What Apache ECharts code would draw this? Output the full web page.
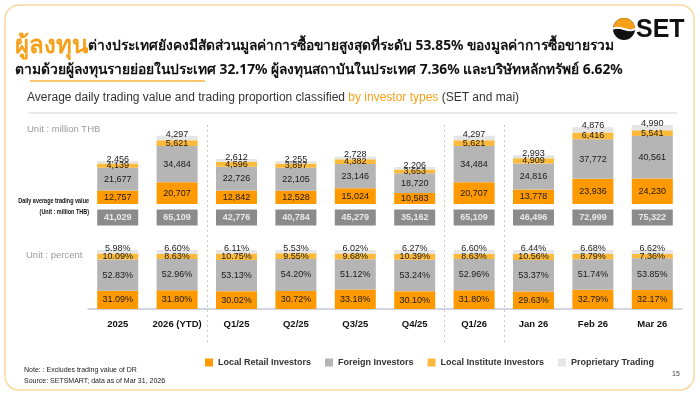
<!DOCTYPE html>
<html><head><meta charset="utf-8">
<script src="https://cdn.jsdelivr.net/npm/echarts@6/dist/echarts.min.js"></script>
<style>html,body{margin:0;padding:0;background:#fff}#c{width:700px;height:394px}</style>
</head><body><div id="c"></div>
<script>
const categories = ['2025', '2026 (YTD)', 'Q1/25', 'Q2/25', 'Q3/25', 'Q4/25', 'Q1/26', 'Jan 26', 'Feb 26', 'Mar 26'];
const retail    = [12757, 20707, 12842, 12528, 15024, 10583, 20707, 13778, 23936, 24230];
const foreign   = [21677, 34484, 22726, 22105, 23146, 18720, 34484, 24816, 37772, 40561];
const institute = [4139, 5621, 4596, 3897, 4382, 3653, 5621, 4909, 6416, 5541];
const prop      = [2456, 4297, 2612, 2255, 2728, 2206, 4297, 2993, 4876, 4990];
const totals    = [41029, 65109, 42776, 40784, 45279, 35162, 65109, 46496, 72999, 75322];
const retailPct    = [31.09, 31.80, 30.02, 30.72, 33.18, 30.10, 31.80, 29.63, 32.79, 32.17];
const foreignPct   = [52.83, 52.96, 53.13, 54.20, 51.12, 53.24, 52.96, 53.37, 51.74, 53.85];
const institutePct = [10.09, 8.63, 10.75, 9.55, 9.68, 10.39, 8.63, 10.56, 8.79, 7.36];
const propPct      = [5.98, 6.60, 6.11, 5.53, 6.02, 6.27, 6.60, 6.44, 6.68, 6.62];
const seriesNames = ['Local Retail Investors', 'Foreign Investors', 'Local Institute Investors', 'Proprietary Trading'];

const COLORS = ['#FF9900', '#B5B5B5', '#FBBA3C', '#E5E5E5'];
const FONT = 'Liberation Sans, Arial, sans-serif';
const fmtNum = v => Number(v).toLocaleString('en-US');
const fmtPct = v => Number(v).toFixed(2) + '%';

const chart = echarts.init(document.getElementById('c'), null, {renderer: 'canvas'});

function barSeries(name, data, idx, stack, fmt, color, isTop) {
  return {
    name, type: 'bar', stack, data, xAxisIndex: idx, yAxisIndex: idx,
    barWidth: 41, itemStyle: {color},
    emphasis: {disabled: true},
    label: {
      show: true,
      position: isTop ? 'top' : 'inside',
      offset: isTop ? [0, 3] : [0, 0],
      distance: 0,
      color: '#1a1a1a', fontSize: 9, fontFamily: FONT,
      formatter: p => fmt(p.value)
    }
  };
}

const valData = [retail, foreign, institute, prop];
const pctData = [retailPct, foreignPct, institutePct, propPct];
const series = [];
valData.forEach((d, i) => series.push(barSeries(seriesNames[i], d, 0, 'val', fmtNum, COLORS[i], i === 3)));
pctData.forEach((d, i) => series.push(barSeries(seriesNames[i], d, 1, 'pct', fmtPct, COLORS[i], i === 3)));
series.push({
  type: 'scatter', xAxisIndex: 2, yAxisIndex: 2,
  data: totals.map((t, i) => [categories[i], 0, t]),
  symbol: 'rect', symbolSize: [41, 16], itemStyle: {color: '#6E6E6E'},
  emphasis: {disabled: true},
  label: {show: true, position: 'inside', color: '#fff', fontWeight: 'bold', fontSize: 9, fontFamily: FONT,
    formatter: p => fmtNum(p.value[2])}
});

const gridL = 88, gridW = 594;
const catAxis = (idx, show) => ({
  type: 'category', data: categories, gridIndex: idx,
  axisLine: {show: show, lineStyle: {color: '#C4C7D9', width: 1.5}},
  axisTick: {show: false},
  axisLabel: {show: show, interval: 0, color: '#111', fontWeight: 'bold', fontSize: 9.5, fontFamily: FONT, margin: 10}
});
const valAxis = (idx, min, max) => ({type: 'value', gridIndex: idx, min, max, show: false, splitLine: {show: false}});

const txt = (x, y, text, opts, extra) => Object.assign({type: 'text', x, y, silent: true,
  style: Object.assign({text, fill: '#333', font: '10px ' + FONT, align: 'left', verticalAlign: 'middle'}, opts || {})}, extra || {});

const graphics = [
  {type: 'rect', shape: {x: 5, y: 5, width: 689, height: 385, r: 14}, style: {fill: 'none', stroke: '#FCD7A0', lineWidth: 1.5}, silent: true},
  txt(15, 46, '{o|ผู้ลงทุน}{b|ต่างประเทศยังคงมีสัดส่วนมูลค่าการซื้อขายสูงสุดที่ระดับ 53.85% ของมูลค่าการซื้อขายรวม}', {
    rich: {o: {fill: '#F7A01A', fontSize: 24, fontWeight: 'bold', fontFamily: 'Noto Sans, sans-serif'},
           b: {fill: '#111', fontSize: 13.8, fontWeight: 'bold', fontFamily: 'Noto Sans, sans-serif'}}}),
  txt(15, 70, 'ตามด้วยผู้ลงทุนรายย่อยในประเทศ 32.17% ผู้ลงทุนสถาบันในประเทศ 7.36% และบริษัทหลักทรัพย์ 6.62%', {
    fill: '#111', font: 'bold 13.8px Noto Sans, sans-serif'}),
  {type: 'line', shape: {x1: 30, y1: 81, x2: 205, y2: 81}, style: {stroke: '#F7B33C', lineWidth: 1.5}, silent: true},
  txt(27, 98, '{g|Average daily trading value and trading proportion classified }{o|by investor types}{g| (SET and mai)}', {
    rich: {g: {fill: '#333', fontSize: 12, fontFamily: FONT}, o: {fill: '#F7A01A', fontSize: 12, fontFamily: FONT}}}),
  {type: 'line', shape: {x1: 28, y1: 113, x2: 677, y2: 113}, style: {stroke: '#D5D5D5', lineWidth: 1}, silent: true},
  // logo
  {type: 'circle', shape: {cx: 624, cy: 29, r: 11}, style: {fill: '#111'}, silent: true},
  {type: 'sector', shape: {cx: 624, cy: 29, r: 11, r0: 0, startAngle: Math.PI, endAngle: 2 * Math.PI}, style: {fill: '#F7A01A'}, silent: true},
  {type: 'bezierCurve', shape: {x1: 613, y1: 29, cpx1: 619, cpy1: 24, cpx2: 629, cpy2: 34, x2: 635, y2: 29}, style: {stroke: '#fff', lineWidth: 2, fill: 'none'}, silent: true},
  txt(636, 30, 'SET', {fill: '#111', font: 'bold 25px ' + FONT}),
  txt(27, 129, 'Unit : million THB', {fill: '#9A9A9A', font: '9.5px ' + FONT}),
  txt(26, 255, 'Unit : percent', {fill: '#9A9A9A', font: '9.5px ' + FONT}),
  txt(89, 201, 'Daily average trading value', {fill: '#111', font: 'bold 7px ' + FONT, align: 'right'}, {scaleX: 0.78}),
  txt(89, 212, '(Unit : million THB)', {fill: '#111', font: 'bold 7px ' + FONT, align: 'right'}, {scaleX: 0.78}),
  txt(24, 370, 'Note: : Excludes trading value of DR', {fill: '#222', font: '7px ' + FONT}),
  txt(24, 381, 'Source: SETSMART; data as of Mar 31, 2026', {fill: '#222', font: '7px ' + FONT}),
  txt(672, 374, '15', {fill: '#444', font: '7px ' + FONT})
];

const option = {
  animation: false,
  backgroundColor: '#fff',
  grid: [
    {left: gridL, width: gridW, top: 120, height: 84},
    {left: gridL, width: gridW, top: 250, height: 59},
    {left: gridL, width: gridW, top: 209, height: 17}
  ],
  xAxis: [catAxis(0, false), catAxis(1, true), catAxis(2, false)],
  yAxis: [valAxis(0, 0, 80000), valAxis(1, 0, 100), valAxis(2, -1, 1)],
  legend: {
    data: seriesNames, left: 200, top: 353, itemWidth: 8, itemHeight: 8, itemGap: 14, icon: 'rect',
    textStyle: {color: '#333', fontSize: 9, fontWeight: 'bold', fontFamily: FONT}, selectedMode: false
  },
  series,
  graphic: graphics
};
chart.setOption(option);

// dashed separators between category groups
const sepAfter = [1, 5, 6];
const sepLines = sepAfter.map(i => {
  const a = chart.convertToPixel({xAxisIndex: 1}, categories[i]);
  const b = chart.convertToPixel({xAxisIndex: 1}, categories[i + 1]);
  const x = Math.round((a + b) / 2) + 0.5;
  return {type: 'line', shape: {x1: x, y1: 125, x2: x, y2: 342}, style: {stroke: '#C8C8C8', lineWidth: 1, lineDash: [2, 3]}, silent: true, z: -1};
});
chart.setOption({graphic: graphics.concat(sepLines)});
</script></body></html>
